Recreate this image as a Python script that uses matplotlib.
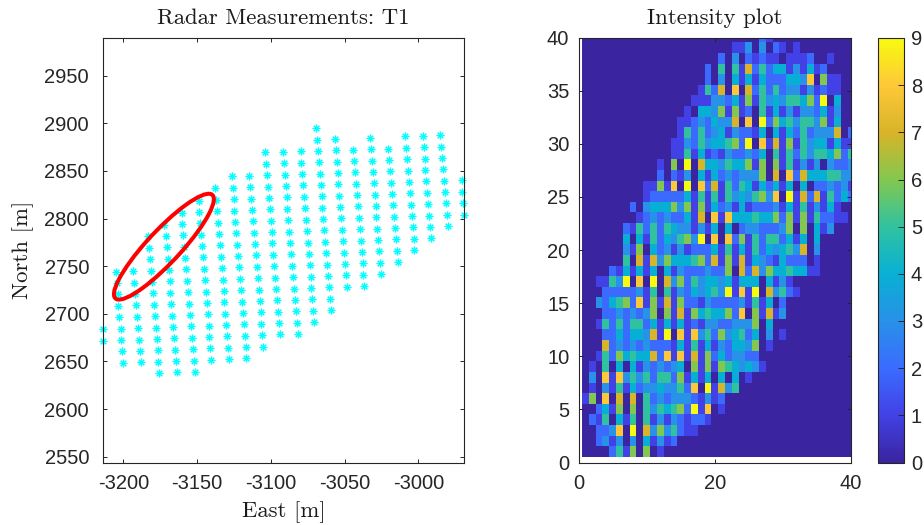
import matplotlib
matplotlib.use("Agg")
import matplotlib.pyplot as plt
import numpy as np
from matplotlib.colors import LinearSegmentedColormap
from matplotlib.patches import Ellipse

# radar detections, one list per sweep column
east_columns = [
    [-3214.0, -3213.6],
    [-3205.0, -3204.3, -3203.8, -3203.4, -3202.7, -3201.8, -3201.4, -3200.7, -3200.2],
    [-3193.2, -3192.5, -3191.9, -3191.2, -3190.5, -3189.8, -3189.4, -3188.7, -3188.2],
    [-3183.0, -3182.4, -3181.9, -3181.2, -3180.6, -3179.9, -3179.2, -3178.8, -3178.1, -3177.4, -3176.7, -3176.3, -3175.6],
    [-3172.4, -3171.3, -3170.6, -3169.9, -3169.3, -3168.6, -3168.1, -3167.5, -3166.8, -3166.1, -3165.4, -3164.7, -3164.3, -3163.6],
    [-3160.4, -3160.0, -3159.3, -3158.6, -3158.0, -3157.3, -3156.6, -3156.2, -3155.5, -3154.8, -3154.1, -3153.4, -3153.0, -3152.3, -3151.6],
    [-3148.9, -3148.5, -3147.8, -3147.1, -3146.7, -3146.0, -3145.3, -3144.6, -3144.2, -3143.5, -3142.8, -3142.1, -3141.7, -3141.0, -3140.3],
    [-3137.9, -3137.2, -3136.5, -3135.8, -3135.1, -3134.7, -3134.0, -3133.3, -3132.7, -3132.0, -3131.5, -3130.8, -3130.4, -3129.7, -3129.0, -3128.4],
    [-3126.5, -3125.9, -3125.2, -3124.7, -3124.1, -3123.4, -3122.7, -3122.0, -3121.4, -3120.9, -3120.2, -3119.5, -3118.9, -3118.4, -3117.7, -3117.1, -3116.6],
    [-3114.6, -3113.9, -3113.2, -3112.8, -3112.1, -3111.4, -3110.7, -3110.1, -3109.6, -3108.9, -3108.2, -3107.6, -3106.9, -3106.4, -3106.0, -3105.3],
    [-3104.0, -3103.3, -3102.6, -3101.9, -3101.2, -3100.8, -3100.1, -3099.4, -3099.0, -3098.3, -3097.6, -3096.9, -3096.3, -3095.8, -3095.1, -3094.5, -3094.0],
    [-3091.9, -3091.2, -3090.6, -3089.9, -3089.2, -3088.8, -3088.1, -3087.4, -3086.7, -3086.3, -3085.6, -3084.9, -3084.2, -3083.6, -3083.1, -3082.4, -3081.7],
    [-3079.7, -3079.3, -3078.6, -3078.1, -3077.4, -3076.8, -3076.1, -3075.6, -3075.0, -3074.3, -3073.6, -3072.9, -3072.5, -3071.8, -3071.1, -3070.4],
    [-3069.3, -3068.6, -3068.0, -3067.3, -3066.6, -3066.2, -3065.5, -3065.0, -3064.3, -3063.7, -3063.0, -3062.3, -3061.6, -3061.0, -3060.3, -3059.8, -3059.1],
    [-3056.7, -3056.0, -3055.3, -3054.6, -3054.2, -3053.5, -3053.0, -3052.4, -3051.7, -3051.0, -3050.3, -3049.7, -3049.0, -3048.5],
    [-3044.0, -3043.5, -3042.9, -3042.2, -3041.5, -3041.1, -3040.4, -3039.7, -3039.0, -3038.4, -3037.7, -3037.2, -3036.5],
    [-3032.7, -3032.0, -3031.6, -3030.9, -3030.2, -3029.5, -3028.9, -3028.4, -3027.7, -3027.1, -3026.4, -3025.7, -3025.0],
    [-3020.3, -3019.6, -3018.9, -3018.2, -3017.8, -3017.1, -3016.4, -3015.8, -3015.1, -3014.6, -3013.9],
    [-3009.0, -3008.3, -3007.6, -3006.9, -3006.3, -3005.8, -3005.1, -3004.4, -3003.8, -3003.1, -3002.6],
    [-2997.0, -2996.3, -2995.6, -2995.2, -2994.5, -2993.8, -2993.2, -2992.5, -2991.8, -2991.3],
    [-2985.0, -2984.3, -2983.7, -2983.2, -2982.5, -2981.9, -2981.2, -2980.5, -2979.8],
    [-2970.5, -2970.1, -2969.4, -2968.7],
]
north_columns = [
    [2683.7, 2671.8],
    [2743.9, 2732.4, 2720.5, 2708.2, 2696.3, 2684.4, 2672.5, 2660.6, 2648.7],
    [2744.6, 2732.7, 2720.8, 2708.9, 2697.0, 2684.8, 2672.9, 2660.9, 2649.0],
    [2781.4, 2769.1, 2757.2, 2745.3, 2733.4, 2721.5, 2709.6, 2697.4, 2685.5, 2673.6, 2661.7, 2649.8, 2637.9],
    [2793.3, 2782.1, 2769.8, 2757.9, 2746.0, 2734.1, 2722.2, 2710.3, 2698.1, 2686.2, 2674.3, 2662.4, 2650.5, 2638.6],
    [2805.9, 2794.3, 2782.4, 2770.5, 2758.6, 2746.7, 2734.8, 2722.6, 2710.7, 2698.8, 2686.9, 2675.0, 2663.1, 2650.8, 2638.9],
    [2818.8, 2806.9, 2795.0, 2783.1, 2771.2, 2759.3, 2747.4, 2735.2, 2723.3, 2711.4, 2699.5, 2687.6, 2675.7, 2663.8, 2651.9],
    [2831.8, 2819.5, 2807.6, 2795.7, 2783.8, 2771.9, 2760.0, 2748.1, 2735.9, 2724.0, 2712.1, 2700.2, 2688.3, 2676.4, 2664.5, 2652.6],
    [2844.4, 2832.5, 2820.2, 2808.3, 2796.4, 2784.5, 2772.6, 2760.7, 2748.8, 2736.6, 2724.7, 2712.8, 2700.9, 2689.0, 2677.1, 2665.2, 2653.3],
    [2844.7, 2832.8, 2820.9, 2809.0, 2797.1, 2785.2, 2773.3, 2761.4, 2749.5, 2737.3, 2725.4, 2713.5, 2701.6, 2689.7, 2677.8, 2665.5],
    [2869.6, 2857.7, 2845.8, 2833.5, 2821.6, 2809.7, 2797.8, 2785.9, 2774.0, 2762.1, 2750.2, 2737.9, 2726.0, 2714.2, 2702.3, 2690.4, 2678.4],
    [2869.9, 2858.0, 2846.1, 2834.2, 2822.3, 2810.4, 2798.5, 2786.3, 2774.0, 2762.5, 2750.2, 2738.3, 2726.4, 2714.5, 2702.6, 2690.7, 2678.8],
    [2870.6, 2858.7, 2846.8, 2834.9, 2822.7, 2810.8, 2798.5, 2786.6, 2774.7, 2762.8, 2750.9, 2739.0, 2727.1, 2715.2, 2703.3, 2691.4],
    [2894.8, 2882.9, 2871.0, 2859.1, 2847.2, 2835.3, 2823.4, 2811.5, 2799.6, 2787.7, 2775.4, 2763.5, 2751.6, 2739.7, 2727.8, 2715.9, 2704.0],
    [2883.6, 2871.7, 2859.8, 2847.9, 2836.0, 2824.1, 2812.2, 2800.3, 2788.0, 2776.1, 2764.2, 2752.3, 2740.4, 2728.5],
    [2872.4, 2860.5, 2848.6, 2836.7, 2824.8, 2812.9, 2801.0, 2788.7, 2776.8, 2764.9, 2753.0, 2741.1, 2729.2],
    [2884.6, 2872.7, 2860.8, 2848.9, 2837.0, 2825.1, 2813.2, 2801.3, 2789.4, 2777.5, 2765.6, 2753.4, 2741.5],
    [2873.4, 2861.5, 2849.6, 2837.7, 2825.8, 2813.9, 2802.0, 2790.1, 2778.2, 2766.0, 2754.1],
    [2886.4, 2874.5, 2862.2, 2850.3, 2838.4, 2826.5, 2814.6, 2802.7, 2790.8, 2778.9, 2766.7],
    [2886.7, 2874.8, 2862.9, 2851.0, 2839.1, 2827.2, 2815.3, 2803.1, 2791.5, 2779.6],
    [2887.4, 2875.5, 2863.6, 2851.7, 2839.8, 2827.9, 2816.0, 2803.8, 2791.9],
    [2840.2, 2828.3, 2816.0, 2804.1],
]

# gate ellipse
gate_center = (-3172.5, 2770.5)
gate_axes = (127.5, 26.0)
gate_angle = 59.9

# intensity cells, row 40 first: (first non empty column, digits from there on)
intensity_rows = [
    (27, "21"),
    (23, "1130302101"),
    (21, "20302121101112001"),
    (19, "205051725244131412"),
    (19, "20304141422244380611"),
    (18, "152708072525233131211"),
    (17, "1113324161534355462904"),
    (16, "10443616120514131332413"),
    (15, "112324337080926453553614"),
    (15, "15252341322140414252333702"),
    (14, "113253445629081716153441411"),
    (14, "115141213223240515253554625"),
    (12, "10609074435446160615131303223"),
    (12, "20213041423233360708274445533"),
    (10, "1161809082715254142414040223231"),
    (10, "1222224151515343563809172715242"),
    (8, "2034446361614231412223141513141"),
    (9, "1232322417081844454462616152211"),
    (7, "2152525433131404023322236060413"),
    (7, "40415243563908082615255241404"),
    (7, "31604231312224151415243453703"),
    (7, "50717364445627161714321422201"),
    (5, "2141414041322232260727364454411"),
    (3, "11539080907362534434144404131"),
    (4, "22222315051324345391819073521"),
    (3, "3245628161716221322223151402"),
    (4, "223232360617164544628061713"),
    (3, "15252552414141213322333604"),
    (4, "224244371908183526345240301"),
    (4, "7232323222141514132443601"),
    (3, "152645447281817162423322"),
    (2, "10504041323234061616543431"),
    (2, "308183535255261414040401"),
    (2, "1031514233433528091735"),
    (1, "160807070523233321312"),
    (3, "2416060535456291801"),
    (2, "215041505131321221"),
    (3, "223809073635211"),
    (3, "231303041312"),
    (5, "25160601"),
]

parula_colors = ["#3A249F", "#4242E6", "#3A6CFF", "#2891E8", "#08B0D4",
                 "#30C2A0", "#82C850", "#D8B428", "#FDC838", "#F8FA10"]

matplotlib.rcParams["axes.unicode_minus"] = False
matplotlib.rcParams["font.family"] = "Liberation Sans"
matplotlib.rcParams["font.size"] = 14.5
axis_color = "#262626"
label_font = {"family": "cmr10", "color": "#1a1a1a"}
label_size = 16.4

intensity = np.zeros((40, 40))
for row, (first, digits) in enumerate(intensity_rows):
    for i, d in enumerate(digits):
        intensity[row, first - 1 + i] = int(d)

fig = plt.figure(figsize=(9.24, 5.25), dpi=100)
W, H = 924.0, 525.0


def axes_px(left, top, right, bottom):
    return fig.add_axes([left / W, 1 - bottom / H, (right - left) / W, (bottom - top) / H])


def style_axes(ax, ypad):
    for s in ax.spines.values():
        s.set_color(axis_color)
        s.set_linewidth(0.8)
    ax.tick_params(direction="in", length=3, width=0.7, top=True, right=True,
                   color=axis_color, labelcolor=axis_color, labelsize=14.5)
    ax.tick_params(axis="x", pad=8)
    ax.tick_params(axis="y", pad=ypad)


ax1 = axes_px(103, 37.5, 464.3, 462.5)
for east, north in zip(east_columns, north_columns):
    ax1.plot(east, north, linestyle="none", marker=(8, 2, 0), markersize=5.5,
             markeredgewidth=0.8, color="cyan", clip_on=False)
ax1.add_patch(Ellipse(gate_center, gate_axes[0], gate_axes[1], angle=gate_angle,
                      fill=False, edgecolor="red", linewidth=2.9, zorder=5))
ax1.set_xlim(-3213.8, -2968.8)
ax1.set_ylim(2544, 2990)
ax1.set_xticks([-3200, -3150, -3100, -3050, -3000])
ax1.set_yticks(np.arange(2550, 2951, 50))
style_axes(ax1, 10)
ax1.set_title("Radar Measurements: T1", fontsize=label_size, pad=9.5, fontdict=label_font)
ax1.set_xlabel("East [m]", fontsize=label_size, labelpad=6, fontdict=label_font)
ax1.set_ylabel("North [m]", fontsize=label_size, labelpad=7.5, fontdict=label_font)

ax2 = axes_px(579, 37.5, 851, 462.5)
cmap = LinearSegmentedColormap.from_list("parula_like", parula_colors, N=256)
im = ax2.imshow(intensity, origin="upper", extent=(0.5, 40.5, 0.5, 40.5), aspect="auto",
                interpolation="nearest", cmap=cmap, vmin=0, vmax=9)
ax2.set_xlim(0, 40)
ax2.set_ylim(0, 40)
ax2.set_xticks([0, 20, 40])
ax2.set_yticks(np.arange(0, 41, 5))
style_axes(ax2, 7)
ax2.set_title("Intensity plot", fontsize=label_size, pad=9.5, fontdict=label_font)

cax = axes_px(877.5, 38, 904, 462.5)
cbar = fig.colorbar(im, cax=cax, ticks=np.arange(0, 10))
cbar.outline.set_edgecolor(axis_color)
cbar.outline.set_linewidth(0.8)
cax.tick_params(direction="in", length=4, width=0.7, color=axis_color,
                labelcolor=axis_color, labelsize=14.5, pad=5)

fig.savefig("out.png", dpi=100)
